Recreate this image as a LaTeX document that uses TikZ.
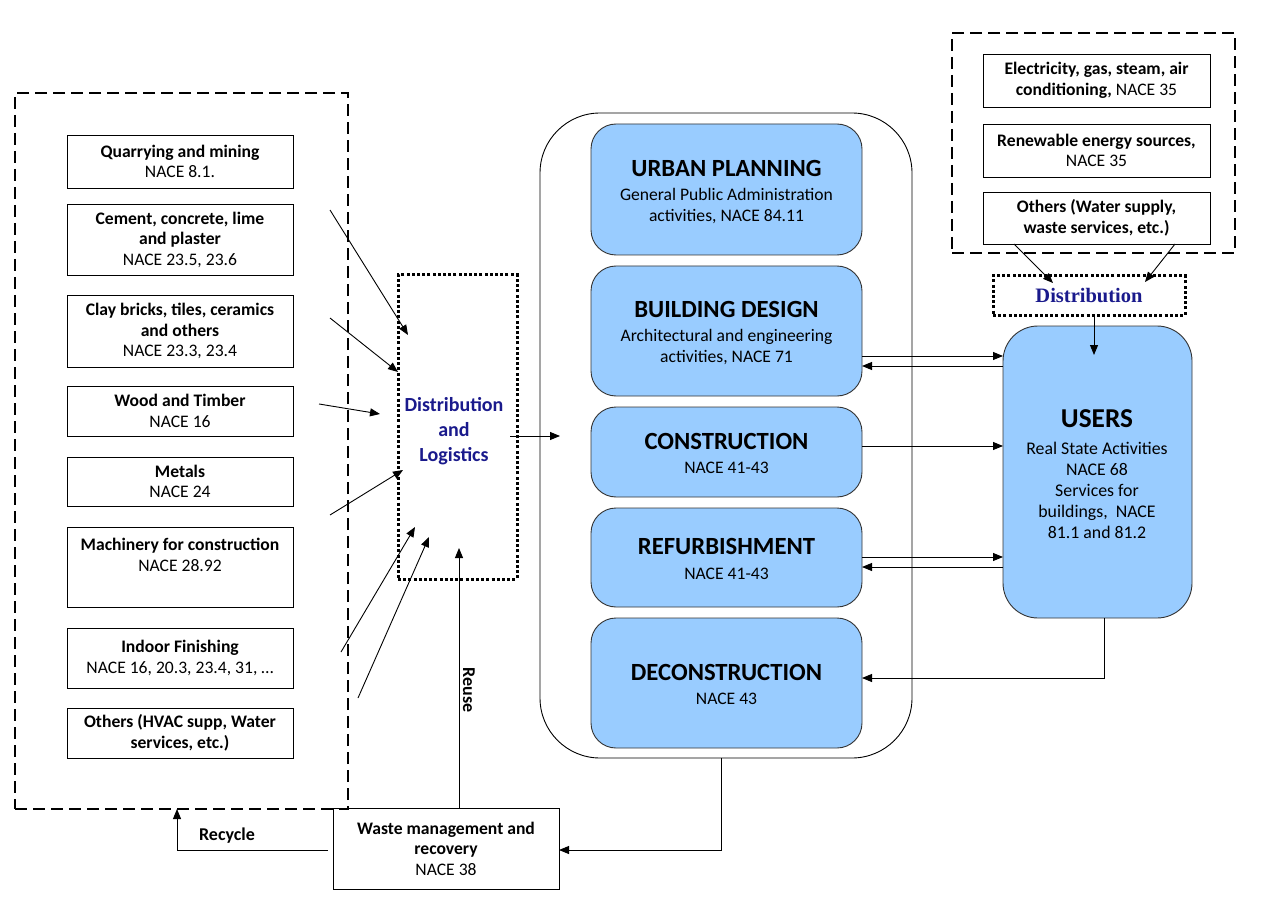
\documentclass[tikz,border=0pt]{standalone}
\usepackage{fontspec}
\setmainfont{Carlito}
\newfontfamily\serifb{Liberation Serif}
\usetikzlibrary{arrows.meta}
\definecolor{boxblue}{HTML}{99CCFF}
\definecolor{navy}{HTML}{1A1A8C}
\begin{document}
\begin{tikzpicture}[x=1pt,y=-1pt,
  every node/.style={inner sep=0pt, outer sep=0pt},
  body/.style={font=\fontsize{17.6}{20.5}\selectfont},
  wbox/.style={draw=black, line width=0.9pt, align=center, body},
  bbox/.style={draw=black!80, line width=0.9pt, fill=boxblue, rounded corners=25pt},
  hdr/.style={font=\fontsize{24.7}{28}\selectfont\bfseries},
  sub/.style={align=center, font=\fontsize{17.6}{21}\selectfont},
  dashbox/.style={draw=black, line width=2pt, dash pattern=on 12pt off 6pt},
  dotbox/.style={draw=black, line width=3pt, dash pattern=on 3pt off 2.2pt},
  arr/.style={-{Triangle[length=10pt,width=8pt]}, line width=0.9pt},
  ln/.style={line width=0.9pt}]
\useasboundingbox (0,0) rectangle (1279,901);
\fill[white] (0,0) rectangle (1279,901);

% ---------- supply (left) ----------
\node[dashbox, minimum width=333pt, minimum height=716pt] (supp) at (181.5,451) {};
\node[wbox, minimum width=226pt, minimum height=53pt] (q) at (180,161.5) {\textbf{Quarrying and mining}\\NACE 8.1.};
\node[wbox, minimum width=226pt, minimum height=71pt] (cem) at (180,239.5) {\textbf{Cement, concrete, lime}\\\textbf{and plaster}\\NACE 23.5, 23.6};
\node[wbox, minimum width=226pt, minimum height=72pt] (clay) at (180,331) {\textbf{Clay bricks, tiles, ceramics}\\\textbf{and others}\\NACE 23.3, 23.4};
\node[wbox, minimum width=226pt, minimum height=50pt] (wood) at (180,411) {\textbf{Wood and Timber}\\NACE 16};
\node[wbox, minimum width=226pt, minimum height=49pt] (met) at (180,481.5) {\textbf{Metals}\\NACE 24};
\node[draw=black, line width=0.9pt, minimum width=226pt, minimum height=80pt] (mach) at (180,567) {};
\node[body, align=center] (macht) at (180,555) {\textbf{Machinery for construction}\\NACE 28.92};
\node[wbox, minimum width=226pt, minimum height=60pt] (ind) at (180,658) {\textbf{Indoor Finishing}\\NACE 16, 20.3, 23.4, 31, \dots};
\node[wbox, minimum width=226pt, minimum height=50pt] (oth) at (180,733) {\textbf{Others (HVAC supp, Water}\\\textbf{services, etc.)}};

% ---------- distribution and logistics ----------
\node[dotbox, minimum width=119pt, minimum height=304pt] (dl) at (457.5,427) {};
\node[align=center, text=navy, font=\fontsize{20}{25}\selectfont\bfseries] (dlt) at (454,431) {Distribution\\and\\Logistics};

\coordinate (s1) at (330,210); \coordinate (e1) at (408,335);
\coordinate (s2) at (330,318); \coordinate (e2) at (398,372);
\coordinate (s3) at (319,404); \coordinate (e3) at (380,414);
\coordinate (s4) at (330,515); \coordinate (e4) at (403,470);
\coordinate (s5) at (341,652); \coordinate (e5) at (415,527);
\coordinate (s6) at (358,698); \coordinate (e6) at (429,537);
\foreach \i in {1,...,6} {\draw[arr] (s\i) -- (e\i);}

% ---------- life cycle ----------
\draw[ln, rounded corners=60pt] (540,113) rectangle (912,758);
\coordinate (lifebot) at (721,758);
\node[bbox, minimum width=271pt, minimum height=131pt] (up) at (726.5,189.5) {};
\node[hdr] (upt) at (726.5,168) {URBAN PLANNING};
\node[sub] (ups) at (726.5,206) {General Public Administration\\activities, NACE 84.11};
\node[bbox, minimum width=271pt, minimum height=130pt] (bd) at (726.5,331) {};
\node[hdr] (bdt) at (726.5,309) {BUILDING DESIGN};
\node[sub] (bds) at (726.5,347.5) {Architectural and engineering\\activities, NACE 71};
\node[bbox, minimum width=271pt, minimum height=90pt] (con) at (726.5,452) {};
\node[hdr] (cont) at (726.5,441) {CONSTRUCTION};
\node[sub] (cons) at (726.5,468) {NACE 41-43};
\node[bbox, minimum width=271pt, minimum height=99pt] (ref) at (726.5,557.5) {};
\node[hdr] (reft) at (726.5,546) {REFURBISHMENT};
\node[sub] (refs) at (726.5,574) {NACE 41-43};
\node[bbox, minimum width=271pt, minimum height=130pt] (dec) at (726.5,683) {};
\node[hdr] (dect) at (726.5,672) {DECONSTRUCTION};
\node[sub] (decs) at (726.5,699) {NACE 43};

\coordinate (dlout) at (510,436); \coordinate (lifein) at (560,436);
\draw[arr] (dlout) -- (lifein);

% ---------- energy (top right) ----------
\node[dashbox, minimum width=283pt, minimum height=220pt] (en) at (1093.5,143) {};
\node[wbox, minimum width=227pt, minimum height=53pt] (el) at (1096.5,80.5) {\textbf{Electricity, gas, steam, air}\\\textbf{conditioning,} NACE 35};
\node[wbox, minimum width=227pt, minimum height=53pt] (ren) at (1096.5,150.5) {\textbf{Renewable energy sources,}\\NACE 35};
\node[wbox, minimum width=227pt, minimum height=52pt] (ot) at (1096.5,218) {\textbf{Others (Water supply,}\\\textbf{waste services, etc.)}};
\node[dotbox, minimum width=192pt, minimum height=39pt] (dist) at (1089,295.5) {};
\node[text=navy, font=\fontsize{20.5}{24}\selectfont\serifb\bfseries] (distt) at (1089,296) {Distribution};
\coordinate (d1) at (1053,283); \coordinate (d2) at (1145,282);
\draw[arr] (ot.south -| 1014,0) -- (d1);
\draw[arr] (ot.south -| 1175,0) -- (d2);

% ---------- users ----------
\node[draw=black!80, line width=0.9pt, fill=boxblue, rounded corners=35pt, minimum width=189pt, minimum height=292pt] (users) at (1097.5,472) {};
\node[font=\fontsize{27.3}{30}\selectfont\bfseries] (userst) at (1097,419) {USERS};
\node[align=center, font=\fontsize{17.8}{21}\selectfont] (userss) at (1097,490) {Real State Activities\\NACE 68\\Services for\\buildings,\ \ NACE\\81.1 and 81.2};
\coordinate (uin) at (1094,355);
\draw[arr] (dist.south -| 1094,0) -- (uin);

\draw[arr] (bd.east |- 0,356) -- (users.west |- 0,356);
\draw[arr] (users.west |- 0,366) -- (bd.east |- 0,366);
\draw[arr] (con.east |- 0,446) -- (users.west |- 0,446);
\draw[arr] (ref.east |- 0,557) -- (users.west |- 0,557);
\draw[arr] (users.west |- 0,567) -- (ref.east |- 0,567);
\draw[arr] (users.south -| 1104,0) -- (1104,678) -- (dec.east |- 0,678);

% ---------- waste ----------
\node[wbox, minimum width=226pt, minimum height=81pt] (waste) at (446,848.5) {\textbf{Waste management and}\\\textbf{recovery}\\NACE 38};
\draw[arr] (lifebot) -- (721,850) -- (waste.east |- 0,850);
\coordinate (reuseEnd) at (459,548);
\draw[arr] (waste.north -| 459,0) -- (reuseEnd);
\node[rotate=-90, font=\fontsize{18}{20}\selectfont\bfseries] (reuse) at (469,690) {Reuse};
\draw[arr] ([xshift=-5pt]waste.west |- 0,850) -- (177,850) -- (supp.south -| 177,0);
\node[font=\fontsize{18}{20}\selectfont\bfseries] (recycle) at (227,836) {Recycle};
\end{tikzpicture}
\end{document}
